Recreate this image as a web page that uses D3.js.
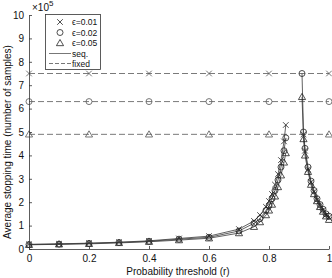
<!DOCTYPE html>
<html>
<head>
<meta charset="utf-8">
<script src="https://cdn.jsdelivr.net/npm/d3@7"></script>
<style>
	body { margin: 0; background: #fff; }
	text { font-family: "Liberation Sans", Arial, sans-serif; }
</style>
</head>
<body>
<div id="chart"></div>
<script>
// r values of the sequential test (two branches, gap around the threshold)
let rLeft = [0, 0.1, 0.2, 0.3, 0.4, 0.5, 0.6, 0.7, 0.75, 0.77, 0.79, 0.8, 0.81, 0.82, 0.83, 0.84, 0.85, 0.856];
let rRight = [0.91, 0.915, 0.92, 0.93, 0.94, 0.95, 0.96, 0.97, 0.98, 0.99, 1.0];

// values in units of 1e5 samples
let seqLeft01 = [0.20, 0.22, 0.25, 0.29, 0.35, 0.45, 0.55, 0.85, 1.2, 1.45, 1.8, 2.05, 2.35, 2.75, 3.2, 3.8, 4.6, 5.3];
let seqLeft02 = [0.19, 0.21, 0.24, 0.28, 0.33, 0.42, 0.50, 0.77, 1.1, 1.3, 1.65, 1.85, 2.15, 2.5, 2.95, 3.5, 4.2, 4.75];
let seqLeft05 = [0.18, 0.20, 0.22, 0.26, 0.31, 0.38, 0.46, 0.68, 0.95, 1.15, 1.45, 1.65, 1.9, 2.25, 2.65, 3.15, 3.7, 4.1];
let seqRight01 = [null, 4.9, 4.2, 3.4, 2.85, 2.45, 2.1, 1.85, 1.65, 1.45, 1.35];
let seqRight02 = [7.5, 5.0, 4.3, 3.5, 2.9, 2.5, 2.15, 1.9, 1.7, 1.5, 1.4];
let seqRight05 = [6.5, 4.7, 4.0, 3.3, 2.75, 2.35, 2.05, 1.8, 1.6, 1.4, 1.25];

let fixedR = [0, 0.2, 0.4, 0.6, 0.8, 1.0];
let fixedVals = [7.5, 6.3, 4.9];

let epsLabels = ["\u03F5=0.01", "\u03F5=0.02", "\u03F5=0.05"];
let markerTypes = ["cross", "circle", "triangle"];
let xTicks = [0, 0.2, 0.4, 0.6, 0.8, 1];
let yTicks = [0, 1, 2, 3, 4, 5, 6, 7, 8, 9, 10];

var width = 332, height = 278;
var margin = {top: 15, right: 3, bottom: 30, left: 29};

var svg = d3.select("#chart").append("svg")
	.attr("width", width)
	.attr("height", height);

var xScale = d3.scaleLinear().domain([0, 1]).range([margin.left, 329]);
var yScale = d3.scaleLinear().domain([0, 10]).range([249, margin.top]);

function marker(g, type, x, y, color) {
	if (type === "cross") {
		var s = 2.8;
		g.append("path")
			.attr("d", `M${x-s},${y-s}L${x+s},${y+s}M${x-s},${y+s}L${x+s},${y-s}`)
			.attr("stroke", color).attr("stroke-width", 0.8).attr("fill", "none");
	} else if (type === "circle") {
		g.append("circle").attr("cx", x).attr("cy", y).attr("r", 3)
			.attr("stroke", color).attr("stroke-width", 0.8).attr("fill", "none");
	} else {
		g.append("path")
			.attr("d", d3.symbol().type(d3.symbolTriangle).size(22)())
			.attr("transform", `translate(${x},${y + 0.6})`)
			.attr("stroke", color).attr("stroke-width", 0.8).attr("fill", "none");
	}
}

// fixed sample size lines
var fixedG = svg.append("g");
fixedVals.forEach(function(v, i) {
	fixedG.append("line")
		.attr("x1", xScale(0)).attr("x2", xScale(1))
		.attr("y1", yScale(v)).attr("y2", yScale(v))
		.attr("stroke", "#7a7a7a").attr("stroke-width", 1)
		.attr("stroke-dasharray", "6,3");
	fixedR.forEach(function(r) {
		marker(fixedG, markerTypes[i], xScale(r), yScale(v), "#555");
	});
});

// sequential curves
var line = d3.line()
	.defined(d => d[1] !== null)
	.x(d => xScale(d[0]))
	.y(d => yScale(d[1]));

var seqLeft = [seqLeft01, seqLeft02, seqLeft05];
var seqRight = [seqRight01, seqRight02, seqRight05];
var seqG = svg.append("g");
[0, 1, 2].forEach(function(i) {
	[[rLeft, seqLeft[i]], [rRight, seqRight[i]]].forEach(function(branch) {
		var pts = branch[0].map((r, j) => [r, branch[1][j]]);
		seqG.append("path")
			.attr("d", line(pts))
			.attr("fill", "none")
			.attr("stroke", "#3a3a3a")
			.attr("stroke-width", 0.8);
		pts.filter(p => p[1] !== null).forEach(function(p) {
			marker(seqG, markerTypes[i], xScale(p[0]), yScale(p[1]), "#222");
		});
	});
});

// axes (ticks inward, no box)
var xAxis = svg.append("g")
	.attr("transform", `translate(0,${yScale(0)})`)
	.call(d3.axisBottom(xScale).tickValues(xTicks).tickSizeInner(-3).tickSizeOuter(0).tickPadding(6)
		.tickFormat(d => d === 0 || d === 1 ? d3.format("d")(d) : d3.format(".1f")(d)));
var yAxis = svg.append("g")
	.attr("transform", `translate(${xScale(0)},0)`)
	.call(d3.axisLeft(yScale).tickValues(yTicks).tickSizeInner(-3).tickSizeOuter(0).tickPadding(5));
[xAxis, yAxis].forEach(function(a) {
	a.selectAll("path, line").attr("stroke", "#333").attr("stroke-width", 0.8);
	a.selectAll("text").attr("font-size", 10).attr("fill", "#111")
		.style("font-family", "'Liberation Sans', Arial, sans-serif");
});

svg.append("text")
	.attr("x", 178).attr("y", 275)
	.attr("text-anchor", "middle").attr("font-size", 10).attr("fill", "#111")
	.text("Probability threshold (r)");
svg.append("text")
	.attr("transform", `translate(11,${(yScale(0) + yScale(10)) / 2 + 10}) rotate(-90)`)
	.attr("text-anchor", "middle").attr("font-size", 10).attr("fill", "#111")
	.text("Average stopping time (number of samples)");

var expo = svg.append("text").attr("x", 32).attr("y", 11).attr("font-size", 10).attr("fill", "#111");
expo.append("tspan").text("\u00D710");
expo.append("tspan").attr("dy", -5).attr("font-size", 8).text("5");

// legend
var leg = svg.append("g");
leg.append("rect")
	.attr("x", 45.5).attr("y", 14.5).attr("width", 55).attr("height", 55)
	.attr("fill", "#fff").attr("stroke", "#333").attr("stroke-width", 0.8);
epsLabels.forEach(function(lab, i) {
	var y = 22 + i * 10.5;
	marker(leg, markerTypes[i], 60, y, "#222");
	leg.append("text").attr("x", 72).attr("y", y + 3)
		.attr("font-size", 8.5).attr("fill", "#111").text(lab);
});
leg.append("line").attr("x1", 49).attr("x2", 71).attr("y1", 53.5).attr("y2", 53.5)
	.attr("stroke", "#777").attr("stroke-width", 1);
leg.append("text").attr("x", 72).attr("y", 56.5).attr("font-size", 8.5).attr("fill", "#111").text("seq.");
leg.append("line").attr("x1", 49).attr("x2", 71).attr("y1", 63.5).attr("y2", 63.5)
	.attr("stroke", "#777").attr("stroke-width", 1).attr("stroke-dasharray", "4,2");
leg.append("text").attr("x", 72).attr("y", 66.5).attr("font-size", 8.5).attr("fill", "#111").text("fixed");
</script>
</body>
</html>
